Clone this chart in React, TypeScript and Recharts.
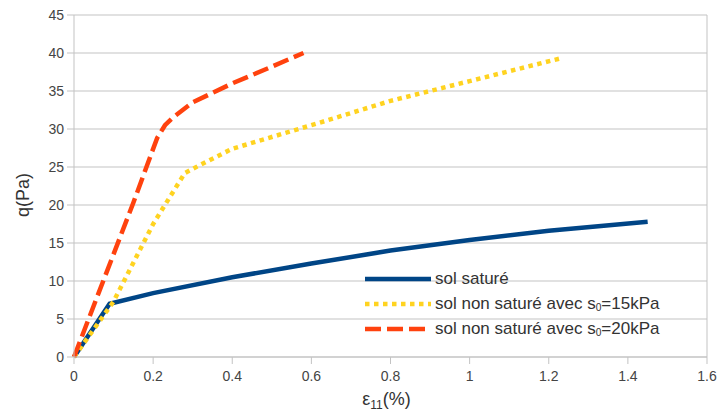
import React from 'react';
import { LineChart, Line, XAxis, YAxis, CartesianGrid, Legend, ReferenceLine, Label } from 'recharts';

// déformation axiale (%) et déviateur q (Pa)
const strainSat = [0, 0.09, 0.2, 0.4, 0.6, 0.8, 1.0, 1.2, 1.45];
const qSat = [0, 7.0, 8.4, 10.5, 12.3, 14.0, 15.4, 16.6, 17.8];

const strain15 = [0, 0.1, 0.2, 0.28, 0.32, 0.4, 0.6, 0.8, 1.0, 1.23];
const q15 = [0, 7.3, 17.5, 24.2, 25.3, 27.4, 30.5, 33.7, 36.3, 39.3];

const strain20 = [0, 0.15, 0.21, 0.23, 0.25, 0.3, 0.4, 0.5, 0.58];
const q20 = [0, 20.3, 28.8, 30.5, 31.5, 33.5, 36.0, 38.2, 40.0];

const xTicks = [0, 0.2, 0.4, 0.6, 0.8, 1, 1.2, 1.4, 1.6];
const yTicks = [0, 5, 10, 15, 20, 25, 30, 35, 40, 45];

const seriesNames = ['sol saturé', 'sol non saturé avec s', 'sol non saturé avec s'];
const suctions = [null, 15, 20];

const colors = ['#004586', '#ffd320', '#ff420e'];
const dashes = [undefined, '4.5 4.5', '16 6'];

const FONT = '"Liberation Sans", Arial, sans-serif';
const GRID = '#c3c3c3';

const toPoints = (xs: number[], ys: number[]) => xs.map((x, i) => ({ x, q: ys[i] }));

const series = [toPoints(strainSat, qSat), toPoints(strain15, q15), toPoints(strain20, q20)];

const renderLegend = () => (
    <div style={{ fontFamily: FONT, fontSize: 17, color: '#333' }}>
        {seriesNames.map((name, i) => (
            <div key={i} style={{ display: 'flex', alignItems: 'center', height: 25 }}>
                <svg width={66} height={8} style={{ marginRight: 4 }}>
                    <line x1={0} y1={4} x2={66} y2={4} stroke={colors[i]} strokeWidth={4.5} strokeDasharray={dashes[i]} />
                </svg>
                <span style={{ whiteSpace: 'nowrap' }}>
                    {name}
                    {suctions[i] !== null && (
                        <>
                            <span style={{ fontSize: '0.6em', verticalAlign: '-0.15em' }}>0</span>
                            {`=${suctions[i]}kPa`}
                        </>
                    )}
                </span>
            </div>
        ))}
    </div>
);

const renderXLabel = (props: any) => {
    const { x, y, width } = props.viewBox;
    return (
        <text x={x + width / 2 - 4} y={y + 48} textAnchor="middle" fill="#333" fontSize={18} fontFamily={FONT}>
            ε<tspan dy={4} fontSize={12}>11</tspan><tspan dy={-4}>(%)</tspan>
        </text>
    );
};

const renderYLabel = (props: any) => {
    const { x, y, height } = props.viewBox;
    const cx = x + 23;
    const cy = y + height / 2 + 9;
    return (
        <text x={cx} y={cy} transform={`rotate(-90, ${cx}, ${cy})`} textAnchor="middle" dominantBaseline="central"
            fill="#333" fontSize={18} fontFamily={FONT}>
            q(Pa)
        </text>
    );
};

export default function App() {
    const tickStyle = { fill: '#444', fontSize: 14, fontFamily: FONT };
    return (
        <div style={{ width: 719, height: 415, background: '#fff' }}>
            <style>{'body{margin:0}'}</style>
            <LineChart width={719} height={415} margin={{ top: 15, right: 12, bottom: 0, left: 0 }}>
                <CartesianGrid vertical={false} stroke={GRID} />
                <XAxis
                    type="number"
                    dataKey="x"
                    domain={[0, 1.6]}
                    ticks={xTicks}
                    height={58}
                    tick={tickStyle}
                    tickSize={7}
                    tickMargin={7}
                    stroke={GRID}
                    allowDuplicatedCategory={false}
                >
                    <Label content={renderXLabel} />
                </XAxis>
                <YAxis
                    type="number"
                    domain={[0, 45]}
                    ticks={yTicks}
                    width={74}
                    tick={tickStyle}
                    tickSize={7}
                    tickMargin={3}
                    stroke={GRID}
                >
                    <Label content={renderYLabel} />
                </YAxis>
                <ReferenceLine x={1.6} stroke={GRID} />
                {series.map((data, i) => (
                    <Line
                        key={i}
                        data={data}
                        dataKey="q"
                        type="linear"
                        stroke={colors[i]}
                        strokeWidth={4.5}
                        strokeDasharray={dashes[i]}
                        dot={false}
                        activeDot={false}
                        isAnimationActive={false}
                    />
                ))}
                <Legend
                    layout="horizontal"
                    verticalAlign="middle"
                    align="center"
                    content={renderLegend}
                    wrapperStyle={{ left: 365, top: 266, width: 330 }}
                />
            </LineChart>
        </div>
    );
}
